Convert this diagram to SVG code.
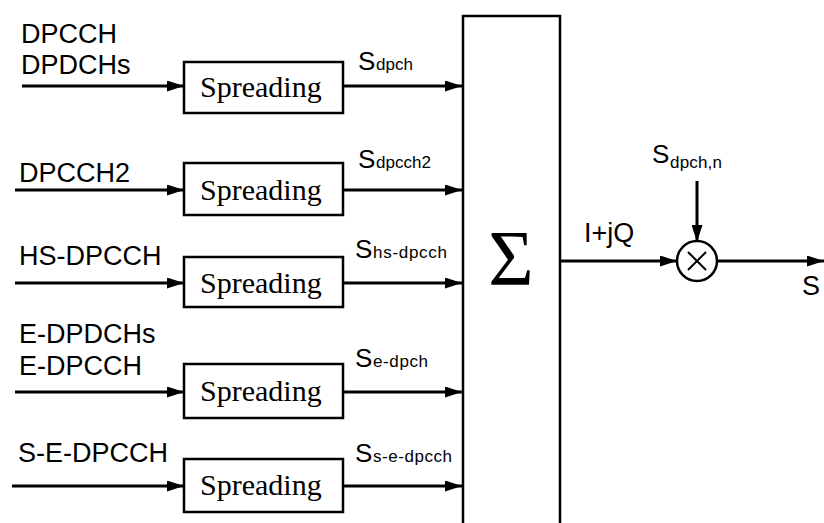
<svg xmlns="http://www.w3.org/2000/svg" width="824" height="523" viewBox="0 0 824 523">
<defs>
<marker id="ah" markerWidth="17" markerHeight="11" refX="17" refY="5.5" orient="auto" markerUnits="userSpaceOnUse">
<path d="M0,0 L17,5.5 L0,11 Z" fill="#000"/>
</marker>
<style>
.box{fill:#fff;stroke:#000;stroke-width:2.5}
.ln{stroke:#000;stroke-width:3;fill:none}
.lab{font-family:"Liberation Sans",Arial,sans-serif;font-size:27px;fill:#000}
.s{font-family:"Liberation Sans",Arial,sans-serif;font-size:26px;fill:#000}
.sub{font-family:"Liberation Sans",Arial,sans-serif;font-size:17px;fill:#000}
.sp{font-family:"Liberation Serif","Times New Roman",serif;font-size:30px;fill:#000}
</style>
</defs>
<rect width="824" height="523" fill="#fff"/>
<g id="connectors">
<line class="ln" x1="22" y1="86" x2="184" y2="86" marker-end="url(#ah)"/>
<line class="ln" x1="343" y1="86" x2="462" y2="86" marker-end="url(#ah)"/>
<line class="ln" x1="15" y1="190" x2="184" y2="190" marker-end="url(#ah)"/>
<line class="ln" x1="343" y1="190" x2="462" y2="190" stroke-width="5" marker-end="url(#ah)"/>
<line class="ln" x1="15" y1="283" x2="184" y2="283" marker-end="url(#ah)"/>
<line class="ln" x1="343" y1="283" x2="462" y2="283" marker-end="url(#ah)"/>
<line class="ln" x1="15" y1="392" x2="184" y2="392" marker-end="url(#ah)"/>
<line class="ln" x1="343" y1="392" x2="462" y2="392" marker-end="url(#ah)"/>
<line class="ln" x1="12" y1="486" x2="184" y2="486" marker-end="url(#ah)"/>
<line class="ln" x1="343" y1="486" x2="462" y2="486" marker-end="url(#ah)"/>
<line class="ln" x1="561" y1="261" x2="677" y2="261" marker-end="url(#ah)"/>
<line class="ln" x1="697" y1="181" x2="697" y2="242" marker-end="url(#ah)"/>
<line class="ln" x1="717" y1="261" x2="824" y2="261" marker-end="url(#ah)"/>
</g>
<g id="spread1"><rect class="box" x="184" y="62" width="159" height="51"/><text class="sp" x="200" y="97">Spreading</text></g>
<g id="spread2"><rect class="box" x="184" y="163" width="159" height="52"/><text class="sp" x="200" y="200">Spreading</text></g>
<g id="spread3"><rect class="box" x="184" y="257" width="159" height="50"/><text class="sp" x="200" y="293">Spreading</text></g>
<g id="spread4"><rect class="box" x="184" y="364" width="159" height="54"/><text class="sp" x="200" y="401">Spreading</text></g>
<g id="spread5"><rect class="box" x="184" y="459" width="159" height="53"/><text class="sp" x="200" y="495">Spreading</text></g>
<g id="sum"><rect class="box" x="463" y="16" width="97" height="520"/><text x="511" y="284" text-anchor="middle" style="font-family:'Liberation Serif','Times New Roman',serif;font-size:78px">Σ</text></g>
<g id="mult"><circle cx="697" cy="261" r="20" fill="#fff" stroke="#000" stroke-width="2.5"/><path d="M688,252 L706,270 M706,252 L688,270" stroke="#000" stroke-width="2"/></g>
<g id="labels">
<text class="lab" x="21" y="43">DPCCH</text>
<text class="lab" x="21" y="74">DPDCHs</text>
<text class="lab" x="19" y="182">DPCCH2</text>
<text class="lab" x="19" y="265">HS-DPCCH</text>
<text class="lab" x="19" y="343">E-DPDCHs</text>
<text class="lab" x="19" y="375">E-DPCCH</text>
<text class="lab" x="18" y="462">S-E-DPCCH</text>
<text class="s" x="358" y="70">S</text><text class="sub" x="376" y="70">dpch</text>
<text class="s" x="358" y="168">S</text><text class="sub" x="376" y="168" textLength="55">dpcch2</text>
<text class="s" x="355" y="258">S</text><text class="sub" x="373" y="258" textLength="74">hs-dpcch</text>
<text class="s" x="355" y="367">S</text><text class="sub" x="373" y="367" textLength="55">e-dpch</text>
<text class="s" x="355" y="462">S</text><text class="sub" x="373" y="462" textLength="79">s-e-dpcch</text>
<text class="lab" x="584" y="242">I+jQ</text>
<text class="s" x="652" y="163">S</text><text class="sub" x="670" y="168" textLength="52">dpch,n</text>
<text class="lab" x="802" y="295">S</text>
</g>
</svg>
